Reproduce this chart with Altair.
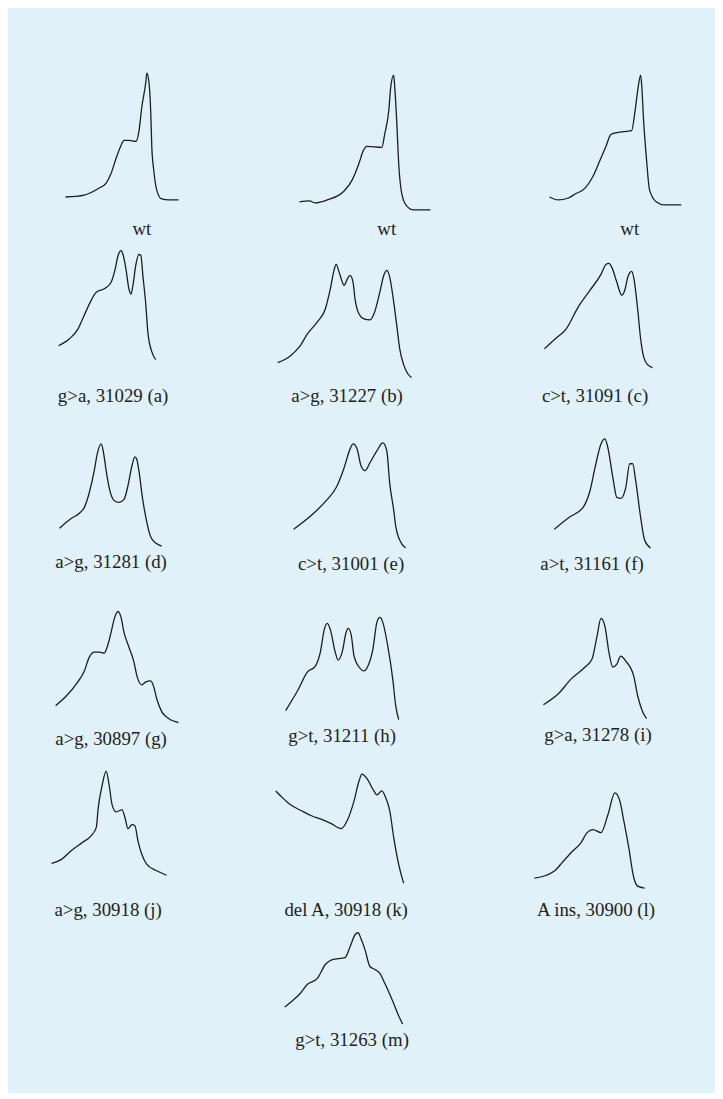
import altair as alt
import pandas as pd

# ---------------- labels ----------------
LABELS = [
    "wt", "wt", "wt",
    "g>a, 31029 (a)", "a>g, 31227 (b)", "c>t, 31091 (c)",
    "a>g, 31281 (d)", "c>t, 31001 (e)", "a>t, 31161 (f)",
    "a>g, 30897 (g)", "g>t, 31211 (h)", "g>a, 31278 (i)",
    "a>g, 30918 (j)", "del A, 30918 (k)", "A ins, 30900 (l)",
    "g>t, 31263 (m)",
]

WT1_T = [29, 48, 63, 70, 75, 80, 85, 88, 93, 100, 103, 106, 110, 111, 113, 115, 116, 118, 121, 126, 133, 143]
WT1_S = [18, 20, 27, 32, 42, 57, 70, 75, 75, 74, 84, 109, 134, 143, 135, 102, 69, 45, 25, 16, 15, 15]

WT2_T = [32, 42, 48, 60, 77, 85, 92, 96, 100, 115, 118, 122, 124, 127, 128, 130, 132, 135, 140, 147, 164]
WT2_S = [13, 14, 12, 15, 24, 35, 52, 64, 69, 68, 82, 105, 129, 141, 129, 95, 52, 22, 9, 5, 5]

WT3_T = [41, 50, 60, 67, 77, 85, 92, 98, 103, 109, 124, 127, 130, 133, 134, 136, 139, 142, 149, 157, 174]
WT3_S = [18, 15, 17, 21, 27, 39, 55, 69, 81, 83, 85, 102, 125, 141, 132, 95, 55, 25, 13, 10, 10]

A_T = [22, 33, 41, 48, 55, 60, 69, 75, 79, 82, 85, 87, 90, 93, 95, 97, 100, 103, 105, 107, 110, 112, 116, 120]
A_S = [37, 44, 53, 68, 83, 91, 95, 101, 114, 128, 133, 129, 114, 94, 89, 98, 119, 129, 128, 108, 78, 51, 31, 23]

B_T = [10, 23, 32, 40, 50, 58, 63, 67, 69, 72, 77, 80, 83, 86, 88, 92, 97, 103, 107, 113, 117, 120, 123, 127, 130, 133, 137, 141, 145]
B_S = [20, 27, 36, 49, 61, 74, 94, 114, 119, 111, 98, 104, 108, 101, 84, 69, 64, 63, 69, 91, 108, 113, 106, 81, 58, 34, 18, 9, 5]

C_T = [36, 47, 58, 70, 82, 93, 98, 101, 104, 109, 114, 117, 120, 124, 126, 130, 133, 136, 140, 145]
C_S = [34, 44, 54, 76, 93, 109, 119, 120, 116, 101, 88, 93, 106, 112, 106, 74, 44, 26, 18, 15]

D_T = [23, 35, 43, 48, 53, 58, 61, 65, 67, 70, 73, 78, 83, 88, 92, 96, 99, 101, 103, 107, 110, 115, 120, 126]
D_S = [20, 30, 35, 41, 56, 78, 95, 105, 98, 78, 61, 48, 46, 49, 63, 83, 92, 89, 78, 48, 31, 11, 5, 2]

E_T = [26, 44, 60, 69, 77, 83, 86, 90, 94, 98, 103, 110, 116, 120, 123, 127, 129, 133, 139]
E_S = [19, 33, 49, 61, 81, 100, 105, 100, 83, 78, 86, 98, 106, 98, 65, 38, 22, 8, 0]

F_T = [46, 61, 75, 82, 87, 93, 97, 100, 105, 109, 113, 118, 122, 125, 128, 133, 137, 143]
F_S = [19, 31, 41, 58, 81, 105, 110, 101, 71, 51, 50, 61, 85, 85, 68, 31, 8, 0]

G_T = [19, 30, 40, 48, 53, 58, 63, 68, 71, 75, 78, 82, 85, 88, 93, 98, 101, 106, 110, 115, 118, 121, 126, 133, 143]
G_S = [16, 26, 38, 51, 65, 70, 70, 69, 75, 90, 103, 111, 105, 90, 75, 60, 46, 37, 40, 41, 35, 23, 10, 3, -1]

H_T = [18, 30, 40, 48, 53, 57, 60, 63, 68, 71, 75, 79, 81, 84, 87, 92, 97, 101, 106, 110, 113, 116, 121, 126, 129, 132]
H_S = [11, 31, 50, 56, 70, 93, 99, 93, 70, 62, 70, 90, 94, 88, 66, 55, 51, 56, 73, 100, 105, 100, 76, 43, 16, 2]

I_T = [35, 50, 63, 77, 84, 89, 93, 97, 101, 105, 109, 113, 118, 126, 130, 135, 139]
I_S = [17, 28, 43, 55, 63, 86, 104, 96, 70, 55, 58, 66, 61, 46, 26, 10, 3]

J_T = [15, 25, 35, 46, 55, 60, 62, 66, 70, 73, 76, 80, 86, 89, 92, 96, 99, 102, 106, 111, 120, 131]
J_S = [33, 37, 46, 54, 61, 69, 89, 112, 126, 112, 92, 85, 87, 79, 68, 72, 71, 56, 42, 32, 26, 21]

K_T = [8, 15, 23, 34, 44, 55, 64, 74, 80, 87, 92, 95, 101, 107, 110, 115, 119, 123, 127, 132, 137]
K_S = [106, 99, 92, 86, 81, 77, 73, 68, 76, 96, 116, 123, 117, 106, 102, 106, 99, 86, 59, 32, 13]

L_T = [26, 38, 47, 54, 63, 73, 79, 85, 93, 100, 107, 112, 116, 121, 126, 130, 137]
L_S = [18, 21, 26, 34, 44, 54, 64, 67, 64, 82, 104, 96, 76, 49, 19, 10, 8]

M_T = [17, 23, 32, 40, 50, 58, 65, 78, 83, 88, 91, 94, 98, 103, 108, 113, 118, 123, 128, 133, 136]
M_S = [16, 21, 29, 39, 45, 59, 64, 66, 77, 89, 91, 85, 74, 57, 54, 50, 40, 29, 17, 5, -1]

TRACES = [
    (WT1_T, WT1_S), (WT2_T, WT2_S), (WT3_T, WT3_S),
    (A_T, A_S), (B_T, B_S), (C_T, C_S),
    (D_T, D_S), (E_T, E_S), (F_T, F_S),
    (G_T, G_S), (H_T, H_S), (I_T, I_S),
    (J_T, J_S), (K_T, K_S), (L_T, L_S),
    (M_T, M_S),
]

# ---------------- layout / style ----------------
COL_W = [150, 160, 174]
ROW_H = [162, 169, 167, 175, 176, 128]
LABEL_DX = [31, 40, 35, 2, 0, 0, 0, 4, -3, 0, -5, 3, -3, -1, 1, 5]
BG = "#E1F1F9"
INK = "#1d1d1d"
FONT = "Liberation Serif"


def panel(idx, width, height):
    t, s = TRACES[idx]
    df = pd.DataFrame({"t": t, "s": s})
    return (
        alt.Chart(df)
        .mark_line(color=INK, strokeWidth=1.3, interpolate="monotone")
        .encode(
            x=alt.X("t:Q", scale=alt.Scale(domain=[0, width], nice=False, zero=False), axis=None),
            y=alt.Y("s:Q", scale=alt.Scale(domain=[0, height], nice=False, zero=False), axis=None),
        )
        .properties(
            width=width,
            height=height,
            title=alt.TitleParams(
                text=LABELS[idx],
                orient="bottom",
                anchor="middle",
                frame="group",
                offset=5,
                baseline="top",
                dx=LABEL_DX[idx],
                font=FONT,
                fontSize=19,
                fontWeight="normal",
                color="#222222",
            ),
        )
    )


def blank(width, height):
    # empty cell so that panel (m) sits under the middle column
    df = pd.DataFrame({"t": pd.Series([], dtype=float), "s": pd.Series([], dtype=float)})
    return (
        alt.Chart(df)
        .mark_line()
        .encode(x=alt.X("t:Q", axis=None), y=alt.Y("s:Q", axis=None))
        .properties(width=width, height=height)
    )


cells = []
for r in range(5):
    for c in range(3):
        cells.append(panel(r * 3 + c, COL_W[c], ROW_H[r]))
cells.append(blank(COL_W[0], ROW_H[5]))
cells.append(panel(15, COL_W[1], ROW_H[5]))

chart = (
    alt.concat(*cells, columns=3, spacing={"row": 0, "column": 83}, bounds="flush")
    .properties(
        padding={"left": 29, "top": 42, "right": 31, "bottom": 38},
        background=BG,
    )
    .configure_view(stroke=None)
)

chart.save("out.html", embed_options={"renderer": "svg", "actions": False})
